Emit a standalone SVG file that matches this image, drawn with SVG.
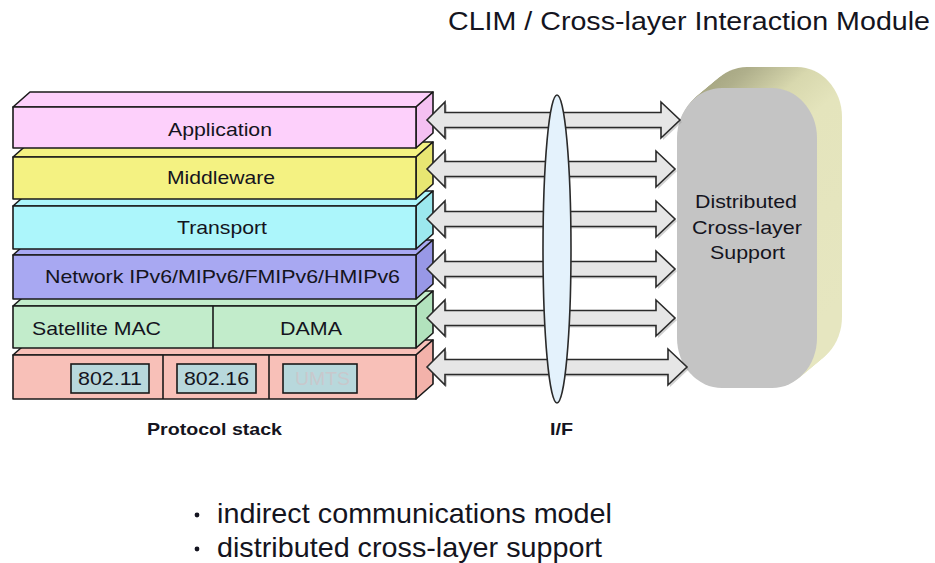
<svg xmlns="http://www.w3.org/2000/svg" width="935" height="563" viewBox="0 0 935 563">
<defs>
<style>
.t{font-family:"Liberation Sans",Arial,sans-serif;fill:#141420;}
.lay{stroke:#1a1a1a;stroke-width:1.6;stroke-linejoin:round;}
.box{fill:#b8d8dc;stroke:#1a1a1a;stroke-width:1.6;}
.arr{fill:#e6e6e6;stroke:#2a2a2a;stroke-width:1.6;stroke-linejoin:miter;}
.sh{fill:#9a9a9a;opacity:0.45;}
</style>
<linearGradient id="ext" x1="0" y1="0" x2="0.3" y2="1">
<stop offset="0" stop-color="#9c9c78"/>
<stop offset="0.1" stop-color="#b0b08c"/>
<stop offset="0.22" stop-color="#d8d8ae"/>
<stop offset="0.35" stop-color="#e4e4bc"/>
<stop offset="1" stop-color="#e6e6c0"/>
</linearGradient>
<path id="pill" d="M722,88 H772 A45,50 0 0 1 817,138 V338 A45,50 0 0 1 772,388 H722 A45,50 0 0 1 677,338 V138 A45,50 0 0 1 722,88 Z"/>
</defs>
<rect width="935" height="563" fill="#ffffff"/>

<text class="t" x="448" y="30" font-size="25" textLength="482" lengthAdjust="spacingAndGlyphs">CLIM / Cross-layer Interaction Module</text>

<!-- Protocol stack layers (drawn bottom-up) -->
<g id="layer-phy">
<polygon class="lay" fill="#f8c0b8" points="13,355 30,340 433,340 416,355"/>
<polygon class="lay" fill="#f3b2aa" points="416,355 433,340 433,384 416,399"/>
<rect class="lay" fill="#f8c0b8" x="13" y="355" width="403" height="44"/>
<line class="lay" x1="163" y1="355" x2="163" y2="399"/>
<line class="lay" x1="269" y1="355" x2="269" y2="399"/>
<g id="n-80211"><rect class="box" x="71" y="364" width="78" height="29"/>
<text class="t" x="78" y="385" font-size="19" textLength="64" lengthAdjust="spacingAndGlyphs">802.11</text></g>
<g id="n-80216"><rect class="box" x="177" y="364" width="79" height="29"/>
<text class="t" x="184" y="385" font-size="19" textLength="65" lengthAdjust="spacingAndGlyphs">802.16</text></g>
<g id="n-umts"><rect class="box" x="283" y="364" width="74" height="29"/>
<text class="t" x="295" y="385" font-size="19" textLength="55" lengthAdjust="spacingAndGlyphs" style="fill:#c8c8cc">UMTS</text></g>
</g>

<g id="layer-mac">
<polygon class="lay" fill="#c2eccb" points="13,306 30,291 433,291 416,306"/>
<polygon class="lay" fill="#b2e2bd" points="416,306 433,291 433,333 416,348"/>
<rect class="lay" fill="#c2eccb" x="13" y="306" width="403" height="42"/>
<line class="lay" x1="213" y1="306" x2="213" y2="348"/>
<text class="t" x="32" y="335" font-size="19" textLength="129" lengthAdjust="spacingAndGlyphs">Satellite MAC</text>
<text class="t" x="280" y="335" font-size="19" textLength="62" lengthAdjust="spacingAndGlyphs">DAMA</text>
</g>

<g id="layer-network">
<polygon class="lay" fill="#a8a8f2" points="13,255 30,240 433,240 416,255"/>
<polygon class="lay" fill="#9898e6" points="416,255 433,240 433,284 416,299"/>
<rect class="lay" fill="#a8a8f2" x="13" y="255" width="403" height="44"/>
<text class="t" x="45" y="283" font-size="19" textLength="355" lengthAdjust="spacingAndGlyphs">Network IPv6/MIPv6/FMIPv6/HMIPv6</text>
</g>

<g id="layer-transport">
<polygon class="lay" fill="#acf6fb" points="13,206 30,191 433,191 416,206"/>
<polygon class="lay" fill="#9ce8ee" points="416,206 433,191 433,234 416,249"/>
<rect class="lay" fill="#acf6fb" x="13" y="206" width="403" height="43"/>
<text class="t" x="177" y="234" font-size="19" textLength="90" lengthAdjust="spacingAndGlyphs">Transport</text>
</g>

<g id="layer-middleware">
<polygon class="lay" fill="#f4f282" points="13,157 30,142 433,142 416,157"/>
<polygon class="lay" fill="#e8e672" points="416,157 433,142 433,184 416,199"/>
<rect class="lay" fill="#f4f282" x="13" y="157" width="403" height="42"/>
<text class="t" x="167" y="184" font-size="19" textLength="108" lengthAdjust="spacingAndGlyphs">Middleware</text>
</g>

<g id="layer-application">
<polygon class="lay" fill="#fdd0fb" points="13,107 30,92 433,92 416,107"/>
<polygon class="lay" fill="#f4c0f2" points="416,107 433,92 433,133 416,148"/>
<rect class="lay" fill="#fdd0fb" x="13" y="107" width="403" height="41"/>
<text class="t" x="168" y="136" font-size="19" textLength="104" lengthAdjust="spacingAndGlyphs">Application</text>
</g>

<text class="t" x="147" y="435" font-size="17" font-weight="bold" textLength="135" lengthAdjust="spacingAndGlyphs">Protocol stack</text>

<!-- Distributed cross-layer support node -->
<g id="node-support">
<use href="#pill" transform="translate(25,-21)" fill="url(#ext)"/>
<use href="#pill" transform="translate(23,-19)" fill="url(#ext)"/>
<use href="#pill" transform="translate(21,-18)" fill="url(#ext)"/>
<use href="#pill" transform="translate(19,-16)" fill="url(#ext)"/>
<use href="#pill" transform="translate(17,-14)" fill="url(#ext)"/>
<use href="#pill" transform="translate(15,-13)" fill="url(#ext)"/>
<use href="#pill" transform="translate(13,-11)" fill="url(#ext)"/>
<use href="#pill" transform="translate(11,-9)" fill="url(#ext)"/>
<use href="#pill" transform="translate(9,-8)" fill="url(#ext)"/>
<use href="#pill" transform="translate(7,-6)" fill="url(#ext)"/>
<use href="#pill" transform="translate(5,-4)" fill="url(#ext)"/>
<use href="#pill" transform="translate(3,-3)" fill="url(#ext)"/>
<use href="#pill" transform="translate(1,-1)" fill="url(#ext)"/>
<use href="#pill" fill="#c4c4c4"/>
<text class="t" x="695" y="208" font-size="19" textLength="102" lengthAdjust="spacingAndGlyphs">Distributed</text>
<text class="t" x="692" y="234" font-size="19" textLength="110" lengthAdjust="spacingAndGlyphs">Cross-layer</text>
<text class="t" x="710" y="259" font-size="19" textLength="75" lengthAdjust="spacingAndGlyphs">Support</text>
</g>

<!-- Connectors: double-headed block arrows -->
<g id="connectors">
<g transform="translate(2,2)">
<polygon class="sh" points="427,120 445,102 445,112.5 661,112.5 661,102 680,120 661,138 661,127.5 445,127.5 445,138"/>
<polygon class="sh" points="427,169 445,151 445,161.5 656,161.5 656,151 675,169 656,187 656,176.5 445,176.5 445,187"/>
<polygon class="sh" points="427,219 445,201 445,211.5 656,211.5 656,201 675,219 656,237 656,226.5 445,226.5 445,237"/>
<polygon class="sh" points="427,269 445,251 445,261.5 656,261.5 656,251 675,269 656,287 656,276.5 445,276.5 445,287"/>
<polygon class="sh" points="427,318 445,300 445,310.5 656,310.5 656,300 675,318 656,336 656,325.5 445,325.5 445,336"/>
<polygon class="sh" points="427,367 445,349 445,359.5 668,359.5 668,349 687,367 668,385 668,374.5 445,374.5 445,385"/>
</g>
<polygon class="arr" points="427,120 445,102 445,112.5 661,112.5 661,102 680,120 661,138 661,127.5 445,127.5 445,138"/>
<polygon class="arr" points="427,169 445,151 445,161.5 656,161.5 656,151 675,169 656,187 656,176.5 445,176.5 445,187"/>
<polygon class="arr" points="427,219 445,201 445,211.5 656,211.5 656,201 675,219 656,237 656,226.5 445,226.5 445,237"/>
<polygon class="arr" points="427,269 445,251 445,261.5 656,261.5 656,251 675,269 656,287 656,276.5 445,276.5 445,287"/>
<polygon class="arr" points="427,318 445,300 445,310.5 656,310.5 656,300 675,318 656,336 656,325.5 445,325.5 445,336"/>
<polygon class="arr" points="427,367 445,349 445,359.5 668,359.5 668,349 687,367 668,385 668,374.5 445,374.5 445,385"/>
</g>

<!-- I/F interface lens -->
<g id="node-if">
<ellipse cx="557" cy="249" rx="14" ry="154" fill="#e4f2fc" stroke="#2a2a2a" stroke-width="1.6"/>
<text class="t" x="550" y="435" font-size="17" font-weight="bold" textLength="23" lengthAdjust="spacingAndGlyphs">I/F</text>
</g>

<g id="bullets">
<circle cx="197" cy="515" r="2.4" fill="#141420"/>
<text class="t" x="217" y="523" font-size="28" textLength="395" lengthAdjust="spacingAndGlyphs">indirect communications model</text>
<circle cx="197" cy="549" r="2.4" fill="#141420"/>
<text class="t" x="217" y="557" font-size="28" textLength="385" lengthAdjust="spacingAndGlyphs">distributed cross-layer support</text>
</g>
</svg>
